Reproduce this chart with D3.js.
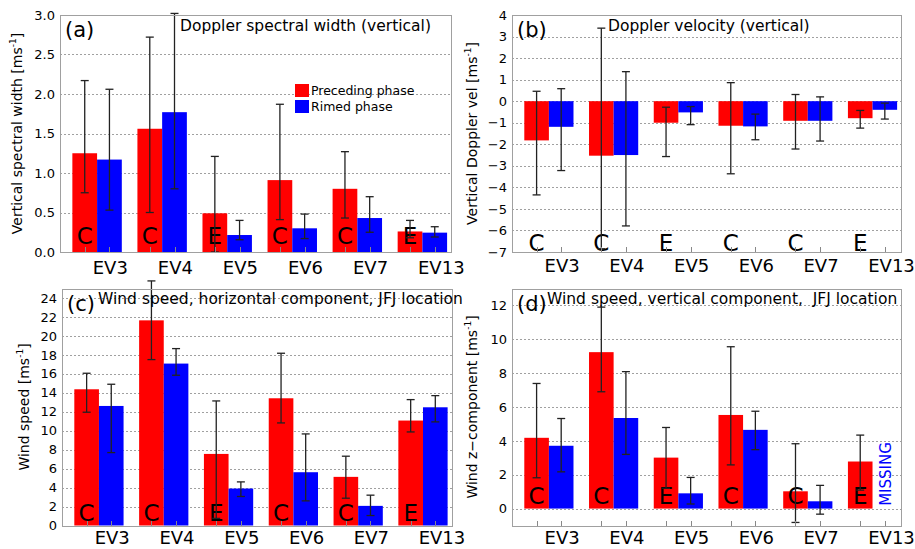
<!DOCTYPE html>
<meta charset="utf-8">
<style>
body { margin: 0; background: #fff; }
svg { font-family: "DejaVu Sans", sans-serif; }
.grid line { stroke: #a0a0a0; stroke-dasharray: 2,2; shape-rendering: crispEdges; }
.frame { fill: none; stroke: #a0a0a0; stroke-width: 1; shape-rendering: crispEdges; }
.xtick { stroke: #888; shape-rendering: crispEdges; }
.err { stroke: #222; stroke-width: 1.3; }
</style>
<body>
<script src="https://d3js.org/d3.v7.min.js"></script>
<script>

var events = ["EV3", "EV4", "EV5", "EV6", "EV7", "EV13"];
var regime = ["C", "C", "E", "C", "C", "E"];

// (a) Doppler spectral width
var specWidthPre    = [1.25, 1.56, 0.49, 0.91, 0.80, 0.26];
var specWidthPreErr = [[0.75, 2.17], [0.50, 2.72], [0.0, 1.21], [0.41, 1.87], [0.43, 1.27], [0.18, 0.40]];
var specWidthRim    = [1.17, 1.77, 0.215, 0.30, 0.43, 0.245];
var specWidthRimErr = [[0.53, 2.06], [0.80, 3.02], [0.155, 0.40], [0.17, 0.48], [0.25, 0.70], [0.19, 0.32]];

// (b) Doppler velocity
var dopVelPre    = [-1.82, -2.53, -1.0, -1.14, -0.91, -0.79];
var dopVelPreErr = [[-4.35, 0.46], [-6.85, 3.39], [-2.57, -0.28], [-3.37, 0.86], [-2.22, 0.31], [-1.25, -0.43]];
var dopVelRim    = [-1.19, -2.50, -0.52, -1.17, -0.91, -0.40];
var dopVelRimErr = [[-3.22, 0.58], [-5.79, 1.37], [-1.09, -0.25], [-1.79, -0.60], [-1.85, 0.20], [-0.83, -0.09]];

// (c) horizontal wind speed
var windHPre    = [14.37, 21.64, 7.55, 13.42, 5.13, 11.07];
var windHPreErr = [[11.95, 16.06], [17.5, 25.8], [0.75, 13.14], [10.82, 18.17], [2.88, 7.31], [9.87, 13.28]];
var windHRim    = [12.61, 17.08, 3.9, 5.62, 2.07, 12.47];
var windHRimErr = [[7.69, 14.9], [15.85, 18.66], [3.06, 4.6], [2.6, 9.66], [1.05, 3.2], [10.93, 13.70]];

// (d) vertical wind component
var windZPre    = [4.18, 9.24, 3.01, 5.53, 1.02, 2.78];
var windZPreErr = [[1.82, 7.39], [6.9, 11.9], [1.2, 4.79], [2.58, 9.56], [-0.82, 3.83], [1.09, 4.34]];
var windZRim    = [3.71, 5.35, 0.9, 4.65, 0.43, null];
var windZRimErr = [[2.17, 5.32], [3.2, 8.09], [0.27, 1.84], [3.48, 5.75], [-0.33, 1.37], null];

var panels = [
  {tag: "(a)", title: "Doppler spectral width (vertical)", ylab: "Vertical spectral width ",
   pre: specWidthPre, preErr: specWidthPreErr, rim: specWidthRim, rimErr: specWidthRimErr,
   ydom: [0, 3], ticks: d3.range(0, 3.01, 0.5), fmt: d3.format(".1f"),
   l: 60, r: 451, t: 15, b: 252, titleX: 180, ylabX: 22, letterY: 0.1, labDy: 22, legend: true},
  {tag: "(b)", title: "Doppler velocity (vertical)", ylab: "Vertical Doppler vel ",
   pre: dopVelPre, preErr: dopVelPreErr, rim: dopVelRim, rimErr: dopVelRimErr,
   ydom: [-7, 4], ticks: d3.range(-7, 4.01, 1), fmt: d3.format("d"),
   l: 512, r: 901, t: 15, b: 252, titleX: 608, ylabX: 477, letterY: -6.97, labDy: 20},
  {tag: "(c)", title: "Wind speed, horizontal component, JFJ location", ylab: "Wind speed ",
   pre: windHPre, preErr: windHPreErr, rim: windHRim, rimErr: windHRimErr,
   ydom: [0, 25], ticks: d3.range(0, 24.01, 2), fmt: d3.format("d"),
   l: 62, r: 451.5, t: 288.5, b: 525.5, titleX: 98, ylabX: 29, letterY: 0.5, labDy: 18.5},
  {tag: "(d)", title: "Wind speed, vertical component,  JFJ location", ylab: "Wind z\u2212component ",
   pre: windZPre, preErr: windZPreErr, rim: windZRim, rimErr: windZRimErr,
   ydom: [-1, 13], ticks: d3.range(0, 12.01, 2), fmt: d3.format("d"),
   l: 512, r: 901, t: 288.5, b: 525.5, titleX: 547, ylabX: 477, letterY: 0.28, labDy: 18.5, missing: "MISSING"}
];

var svg = d3.select("body").append("svg")
  .attr("width", 915)
  .attr("height", 549);

var barW = 0.38;

panels.forEach(function(p) {
  var g = svg.append("g");

  var x = d3.scaleLinear().domain([0.43, 6.44]).range([p.l, p.r]);
  var y = d3.scaleLinear().domain(p.ydom).range([p.b, p.t]);

  // dotted grid
  g.append("g").attr("class", "grid")
    .selectAll("line")
    .data(p.ticks.filter(function(v) { return v > p.ydom[0] && v < p.ydom[1]; }))
    .enter().append("line")
    .attr("x1", p.l).attr("x2", p.r)
    .attr("y1", function(d) { return Math.round(y(d)) + 0.5; })
    .attr("y2", function(d) { return Math.round(y(d)) + 0.5; });

  // bars
  var pos = events.map(function(e, i) { return i + 1; });

  g.selectAll(".pre").data(pos).enter().append("rect")
    .attr("x", function(d) { return x(d - barW); })
    .attr("width", x(barW) - x(0))
    .attr("y", function(d, i) { return y(Math.max(0, p.pre[i])); })
    .attr("height", function(d, i) { return Math.abs(y(p.pre[i]) - y(0)); })
    .attr("fill", "#ff0000");

  g.selectAll(".rim").data(pos.filter(function(d, i) { return p.rim[i] != null; })).enter().append("rect")
    .attr("x", function(d) { return x(d); })
    .attr("width", x(barW) - x(0))
    .attr("y", function(d) { return y(Math.max(0, p.rim[d - 1])); })
    .attr("height", function(d) { return Math.abs(y(p.rim[d - 1]) - y(0)); })
    .attr("fill", "#0000ff");

  // regime letters
  g.selectAll(".reg").data(pos).enter().append("text")
    .attr("x", function(d) { return x(d - barW / 2); })
    .attr("y", y(p.letterY))
    .attr("text-anchor", "middle")
    .style("font-size", "23px")
    .text(function(d, i) { return regime[i]; });

  // error bars
  function errbars(errs, off) {
    var eg = g.selectAll(null).data(errs.map(function(e, i) { return {e: e, c: i + 1 + off}; })
      .filter(function(d) { return d.e != null; }))
      .enter().append("g").attr("class", "err");
    eg.append("line")
      .attr("x1", function(d) { return x(d.c); }).attr("x2", function(d) { return x(d.c); })
      .attr("y1", function(d) { return y(d.e[0]); }).attr("y2", function(d) { return y(d.e[1]); });
    [0, 1].forEach(function(k) {
      eg.append("line")
        .attr("x1", function(d) { return x(d.c) - 4; }).attr("x2", function(d) { return x(d.c) + 4; })
        .attr("y1", function(d) { return y(d.e[k]); }).attr("y2", function(d) { return y(d.e[k]); });
    });
  }
  errbars(p.preErr, -barW / 2);
  errbars(p.rimErr, barW / 2);

  // x ticks and labels
  var tickPos = [];
  pos.forEach(function(d) { tickPos.push(d - barW / 2, d + barW / 2); });
  g.selectAll(".xtick").data(tickPos).enter().append("line")
    .attr("class", "xtick")
    .attr("x1", function(d) { return Math.round(x(d)) + 0.5; })
    .attr("x2", function(d) { return Math.round(x(d)) + 0.5; })
    .attr("y1", p.b).attr("y2", p.b - 5);

  g.selectAll(".evlab").data(pos).enter().append("text")
    .attr("x", function(d) { return x(d - barW / 2) + 8; })
    .attr("y", p.b + p.labDy)
    .style("font-size", "18px")
    .text(function(d, i) { return events[i]; });

  // y axis labels
  var yAxis = g.append("g")
    .attr("transform", "translate(" + p.l + ",0)")
    .call(d3.axisLeft(y).tickValues(p.ticks).tickFormat(p.fmt).tickSize(0).tickPadding(5));
  yAxis.select(".domain").remove();
  yAxis.selectAll("text")
    .style("font-family", "DejaVu Sans, sans-serif")
    .style("font-size", "13px")
    .attr("fill", "#000");

  g.append("rect").attr("class", "frame")
    .attr("x", p.l + 0.5).attr("y", p.t + 0.5)
    .attr("width", p.r - p.l).attr("height", p.b - p.t);

  // y title
  var yt = g.append("text")
    .attr("transform", "translate(" + p.ylabX + "," + ((p.t + p.b) / 2) + ") rotate(-90)")
    .attr("text-anchor", "middle")
    .style("font-size", "14px");
  yt.append("tspan").text(p.ylab + "[ms");
  yt.append("tspan").attr("dy", -6).style("font-size", "9px").text("-1");
  yt.append("tspan").attr("dy", 6).text("]");

  // panel tag and title
  g.append("text").attr("x", p.l + 5).attr("y", p.t + 22)
    .style("font-size", "21px").text(p.tag);
  g.append("text").attr("x", p.titleX).attr("y", p.t + 15.5)
    .style("font-size", "15.5px").style("white-space", "pre").text(p.title);

  if (p.missing) {
    g.append("text")
      .attr("transform", "translate(" + (x(6 + barW / 2) + 6) + "," + y(0.16) + ") rotate(-90)")
      .attr("fill", "#0000ff")
      .style("font-size", "15px")
      .text(p.missing);
  }

  if (p.legend) {
    var items = [{name: "Preceding phase", c: "#ff0000"}, {name: "Rimed phase", c: "#0000ff"}];
    var lg = g.selectAll(".leg").data(items).enter().append("g")
      .attr("transform", function(d, i) { return "translate(295," + (84 + i * 16) + ")"; });
    lg.append("rect").attr("width", 14).attr("height", 13).attr("fill", function(d) { return d.c; });
    lg.append("text").attr("x", 16).attr("y", 10.5)
      .style("font-size", "12.5px").text(function(d) { return d.name; });
  }
});

</script>
